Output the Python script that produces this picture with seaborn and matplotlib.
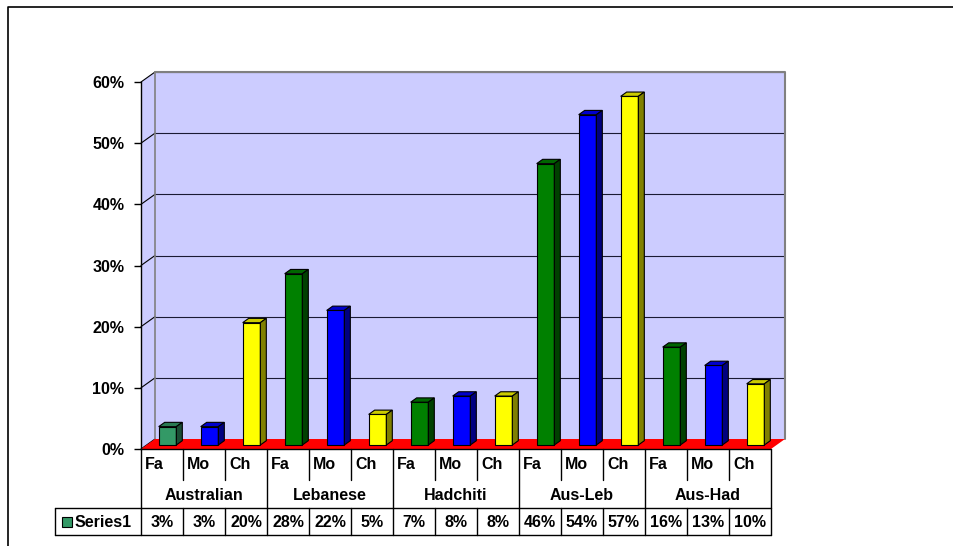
import matplotlib
matplotlib.use("Agg")
import matplotlib.pyplot as plt
import matplotlib.transforms as mtransforms
from matplotlib.patches import Polygon, Rectangle
from matplotlib.lines import Line2D
import pandas as pd
import seaborn as sns

# data
groups = ["Australian", "Lebanese", "Hadchiti", "Aus-Leb", "Aus-Had"]
members = ["Fa", "Mo", "Ch"]
values = [3, 3, 20, 28, 22, 5, 7, 8, 8, 46, 54, 57, 16, 13, 10]
series_name = "Series1"
yticks = [0, 10, 20, 30, 40, 50, 60]

member_colors = {"Fa": "#008000", "Mo": "#0000FF", "Ch": "#FFFF00"}
first_color = "#339966"

keys = [f"{g}|{m}" for g in groups for m in members]
df = pd.DataFrame({"key": keys, "share": values})
colors = [member_colors[k.split("|")[1]] for k in keys]
colors[0] = first_color

sns.set_style("white")
plt.rcParams["font.family"] = ["Liberation Sans", "DejaVu Sans"]
plt.rcParams["font.weight"] = "bold"
plt.rcParams["text.color"] = "black"
plt.rcParams["ytick.color"] = "black"
FS = 11.5

W, H = 954, 546
fig = plt.figure(figsize=(W / 100, H / 100), dpi=100)
L, R, B, T = 141, 771, 449, 82
ax = fig.add_axes([L / W, 1 - B / H, (R - L) / W, (B - T) / H])
ax.set_facecolor("none")

sns.barplot(data=df, x="key", y="share", hue="key", order=keys, hue_order=keys,
            palette=colors, saturation=1, legend=False, width=0.42, edgecolor="black",
            linewidth=0.8, ax=ax, zorder=3)
bars = [p for p in ax.patches if isinstance(p, Rectangle) and p.get_height() > 0]
bars = sorted(bars, key=lambda p: p.get_x())

n = len(keys)
ax.set_xlim(-0.5, n - 0.5)
ax.set_ylim(0, 60)
ux = n / (R - L)          # data units per pixel in x
uy = 60 / (B - T)         # data units per pixel in y

# 3d-ish offsets (pixels)
wx, wy = 14 * ux, 10 * uy      # wall depth
ox, oy = 5.5 * ux, 4 * uy      # bar front offset
bx, by = 6 * ux, 4.3 * uy      # bar depth

wall = "#CCCCFF"
x0, x1 = -0.5, n - 0.5
ax.add_patch(Polygon([(x0 + wx, wy), (x1 + wx, wy), (x1 + wx, 60 + wy), (x0 + wx, 60 + wy)],
                     closed=True, facecolor=wall, edgecolor="none", zorder=0.5, clip_on=False))
ax.add_patch(Polygon([(x0, 0), (x0 + wx, wy), (x0 + wx, 60 + wy), (x0, 60)],
                     closed=True, facecolor=wall, edgecolor="none", zorder=0.5, clip_on=False))
for v in yticks:
    if v > 0:
        ax.plot([x0 + wx, x1 + wx], [v + wy, v + wy], color="#1a1a33", lw=0.8, zorder=0.6, clip_on=False)
    ax.plot([x0, x0 + wx], [v, v + wy], color="black", lw=0.8, zorder=0.6, clip_on=False)
# wall edges
ax.plot([x0 + wx, x1 + wx, x1 + wx], [60 + wy, 60 + wy, wy], color="#808080", lw=1.5, zorder=0.65, clip_on=False)
ax.plot([x0 + wx, x0 + wx], [wy, 60 + wy], color="#808080", lw=1.2, zorder=0.65, clip_on=False)
# floor
ax.add_patch(Polygon([(x0, 0), (x1, 0), (x1 + wx, wy), (x0 + wx, wy)],
                     closed=True, facecolor="#FF0000", edgecolor="none", zorder=0.7, clip_on=False))


def shade(c, f):
    r, g, b = matplotlib.colors.to_rgb(c)
    return (r * f, g * f, b * f)


for p in bars:
    fc = p.get_facecolor()
    p.set_x(p.get_x() + ox)
    p.set_y(oy)
    p.set_clip_on(False)
    xa, xb = p.get_x(), p.get_x() + p.get_width()
    ya, yb = p.get_y(), p.get_y() + p.get_height()
    ax.add_patch(Polygon([(xa, yb), (xb, yb), (xb + bx, yb + by), (xa + bx, yb + by)],
                         closed=True, facecolor=shade(fc, 0.8), edgecolor="black", lw=0.8,
                         zorder=3, clip_on=False))
    ax.add_patch(Polygon([(xb, ya), (xb + bx, ya + by), (xb + bx, yb + by), (xb, yb)],
                         closed=True, facecolor=shade(fc, 0.5), edgecolor="black", lw=0.8,
                         zorder=3, clip_on=False))

# axes styling
for s in ["top", "right", "bottom"]:
    ax.spines[s].set_visible(False)
ax.spines["left"].set_color("black")
ax.spines["left"].set_linewidth(1)
ax.spines["left"].set_zorder(5)
ax.set_yticks(yticks)
ax.set_yticklabels([f"{v}%" for v in yticks])
ax.tick_params(axis="y", length=5, width=1, color="black", labelcolor="black",
               pad=7, labelsize=FS, left=True)
ax.tick_params(axis="x", length=0, labelbottom=False)
for t in ax.get_yticklabels():
    t.set_fontweight("bold")
ax.set_xlabel("")
ax.set_ylabel("")

# data table below the chart
pxy = mtransforms.Affine2D().scale(1 / W, -1 / H).translate(0, 1) + fig.transFigure
tr = mtransforms.blended_transform_factory(ax.transData, pxy)
r0, r1, r2, r3 = 449, 480, 508, 535
leg_left = x0 - (L - 55) * ux


def hline(xa, xb, y):
    ax.add_line(Line2D([xa, xb], [y, y], color="black", lw=1, transform=tr, clip_on=False))


def vline(x, ya, yb):
    ax.add_line(Line2D([x, x], [ya, yb], color="black", lw=1, transform=tr, clip_on=False))


hline(x0, x1, r0)
hline(leg_left, x1, r2)
hline(leg_left, x1, r3)
vline(leg_left, r2, r3)
for i in range(n + 1):
    xb_ = i - 0.5
    if i % 3 == 0:
        vline(xb_, r0, r3)
    else:
        vline(xb_, r0, r1)
        vline(xb_, r2, r3)

for i, k in enumerate(keys):
    ax.text(i - 0.5 + 4 * ux, (r0 + r1) / 2, k.split("|")[1], transform=tr, ha="left",
            va="center", fontsize=FS, fontweight="bold")
    ax.text(i, (r2 + r3) / 2 + 1, f"{values[i]}%", transform=tr, ha="center",
            va="center", fontsize=FS, fontweight="bold")
for j, g in enumerate(groups):
    ax.text(3 * j + 1, (r1 + r2) / 2 + 1, g, transform=tr, ha="center",
            va="center", fontsize=FS, fontweight="bold")

# legend key in table
fig.add_artist(Rectangle((62, 527), 10, -10, transform=pxy, facecolor=first_color,
                         edgecolor="black", lw=0.8))
fig.text(75, (r2 + r3) / 2 + 1, series_name, transform=pxy, ha="left", va="center",
         fontsize=FS, fontweight="bold")

# outer chart border
fig.add_artist(Line2D([8, 8, W + 5], [H + 5, 7, 7], color="black", lw=1.2, transform=pxy))

fig.savefig("out.png", dpi=100, facecolor="white")
